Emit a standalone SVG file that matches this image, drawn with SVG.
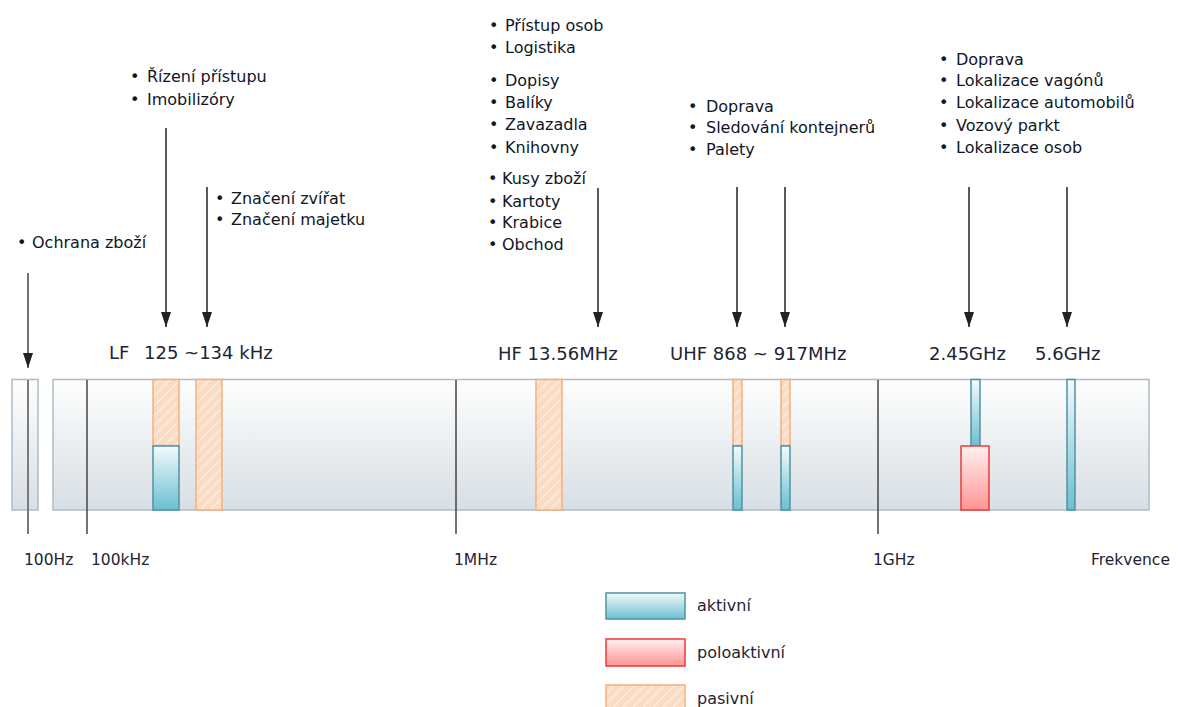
<svg xmlns="http://www.w3.org/2000/svg" width="1178" height="707" viewBox="0 0 1178 707">
<style>
.b{font-family:"DejaVu Sans",sans-serif;font-size:16px;fill:#0f1626}
.f{font-family:"DejaVu Sans",sans-serif;font-size:18px;fill:#1e2434}
.ax{font-family:"DejaVu Sans",sans-serif;font-size:15.5px;fill:#1e2434}
.lg{font-family:"DejaVu Sans",sans-serif;font-size:16px;fill:#1e2434}
.tick{stroke:#444;stroke-width:1.5}
.arr{stroke:#222;stroke-width:1.5;fill:none;marker-end:url(#ah)}
.act{fill:url(#ga);stroke:#4f93a3;stroke-width:1.5}
.semi{fill:url(#gr);stroke:#ee3a3a;stroke-width:1.5}
.pas{fill:url(#hatch);stroke:#f3b07e;stroke-width:1.5}
</style>
<defs>
<linearGradient id="gbar" x1="0" y1="0" x2="0" y2="1">
<stop offset="0" stop-color="#fefefe"/><stop offset="1" stop-color="#d8dfe4"/>
</linearGradient>
<linearGradient id="ga" x1="0" y1="0" x2="0" y2="1">
<stop offset="0" stop-color="#f3fafc"/><stop offset="1" stop-color="#6cbfd0"/>
</linearGradient>
<linearGradient id="gr" x1="0" y1="0" x2="0" y2="1">
<stop offset="0" stop-color="#fff0f0"/><stop offset="1" stop-color="#ff9494"/>
</linearGradient>
<pattern id="hatch" patternUnits="userSpaceOnUse" width="10" height="10">
<rect width="10" height="10" fill="#f9dcc5"/>
<path d="M-2,2 L2,-2 M0,10 L10,0 M8,12 L12,8" stroke="#fff" stroke-opacity="0.55" stroke-width="1.2"/>
</pattern>
<marker id="ah" markerUnits="userSpaceOnUse" markerWidth="15" markerHeight="10" viewBox="0 0 15 10" refX="15" refY="5" orient="auto">
<path d="M0,0 L15,5 L0,10 z" fill="#222"/>
</marker>
</defs>

<g id="band">
<rect x="12" y="379.5" width="26" height="130.5" fill="url(#gbar)" stroke="#aebcc7" stroke-width="1.5"/>
<rect x="53" y="379.5" width="1096" height="130.5" fill="url(#gbar)" stroke="#aebcc7" stroke-width="1.5"/>
</g>

<g id="ticks">
<line x1="28" y1="380" x2="28" y2="534" style="stroke:#7a7a7a;stroke-width:2"/>
<line class="tick" x1="87" y1="380" x2="87" y2="534"/>
<line class="tick" x1="456" y1="380" x2="456" y2="534"/>
<line class="tick" x1="878" y1="380" x2="878" y2="534"/>
</g>

<g id="lf-bands">
<rect class="pas" x="153" y="379.5" width="26" height="66"/>
<rect class="act" x="153" y="446" width="26" height="64"/>
<rect class="pas" x="196" y="379.5" width="26" height="130.5"/>
</g>
<g id="hf-band">
<rect class="pas" x="536" y="379.5" width="26" height="130.5"/>
</g>
<g id="uhf-bands">
<rect class="pas" x="733" y="379.5" width="9" height="66"/>
<rect class="act" x="733" y="446" width="9" height="64"/>
<rect class="pas" x="781" y="379.5" width="9" height="66"/>
<rect class="act" x="781" y="446" width="9" height="64"/>
</g>
<g id="ghz-bands">
<rect class="act" x="971" y="379.5" width="9" height="66.5"/>
<rect class="semi" x="961" y="446" width="28" height="64"/>
<rect class="act" x="1067" y="379.5" width="8" height="130.5"/>
</g>

<g id="axis-labels">
<text class="ax" x="24" y="565">100Hz</text>
<text class="ax" x="91" y="565">100kHz</text>
<text class="ax" x="454" y="565">1MHz</text>
<text class="ax" x="873" y="565">1GHz</text>
<text class="ax" x="1091" y="565">Frekvence</text>
</g>

<g id="freq-labels">
<text class="f" x="109" y="359">LF<tspan x="144">125 ~134 kHz</tspan></text>
<text class="f" x="498" y="360">HF 13.56MHz</text>
<text class="f" x="670" y="360">UHF 868 ~ 917MHz</text>
<text class="f" x="929" y="360">2.45GHz</text>
<text class="f" x="1035" y="360">5.6GHz</text>
</g>

<g id="ochrana">
<text class="b" x="17" y="248">•<tspan x="32">Ochrana zboží</tspan></text>
</g>
<g id="lf-apps1">
<text class="b" x="130" y="82">•<tspan x="147">Řízení přístupu</tspan></text>
<text class="b" x="130" y="105">•<tspan x="147">Imobilizóry</tspan></text>
</g>
<g id="lf-apps2">
<text class="b" x="215" y="204">•<tspan x="231">Značení zvířat</tspan></text>
<text class="b" x="215" y="225">•<tspan x="231">Značení majetku</tspan></text>
</g>
<g id="hf-apps">
<text class="b" x="489" y="31">•<tspan x="505">Přístup osob</tspan></text>
<text class="b" x="489" y="53">•<tspan x="505">Logistika</tspan></text>
<text class="b" x="489" y="86">•<tspan x="505">Dopisy</tspan></text>
<text class="b" x="489" y="108">•<tspan x="505">Balíky</tspan></text>
<text class="b" x="489" y="130">•<tspan x="505">Zavazadla</tspan></text>
<text class="b" x="489" y="153">•<tspan x="505">Knihovny</tspan></text>
<text class="b" x="488" y="184">•<tspan x="502">Kusy zboží</tspan></text>
<text class="b" x="488" y="207">•<tspan x="502">Kartoty</tspan></text>
<text class="b" x="488" y="228">•<tspan x="502">Krabice</tspan></text>
<text class="b" x="488" y="250">•<tspan x="502">Obchod</tspan></text>
</g>
<g id="uhf-apps">
<text class="b" x="688" y="112">•<tspan x="706">Doprava</tspan></text>
<text class="b" x="688" y="133">•<tspan x="706">Sledování kontejnerů</tspan></text>
<text class="b" x="688" y="155">•<tspan x="706">Palety</tspan></text>
</g>
<g id="ghz-apps">
<text class="b" x="939" y="65">•<tspan x="956">Doprava</tspan></text>
<text class="b" x="939" y="86">•<tspan x="956">Lokalizace vagónů</tspan></text>
<text class="b" x="939" y="108">•<tspan x="956">Lokalizace automobilů</tspan></text>
<text class="b" x="939" y="131">•<tspan x="956">Vozový parkt</tspan></text>
<text class="b" x="939" y="153">•<tspan x="956">Lokalizace osob</tspan></text>
</g>

<g id="connectors">
<line class="arr" x1="28" y1="273" x2="28" y2="368" style="stroke:#444"/>
<line class="arr" x1="166" y1="128" x2="166" y2="327"/>
<line class="arr" x1="207" y1="187" x2="207" y2="327"/>
<line class="arr" x1="598" y1="188" x2="598" y2="327"/>
<line class="arr" x1="737" y1="187" x2="737" y2="327"/>
<line class="arr" x1="785" y1="187" x2="785" y2="327"/>
<line class="arr" x1="969" y1="187" x2="969" y2="327"/>
<line class="arr" x1="1067" y1="187" x2="1067" y2="327"/>
</g>

<g id="legend">
<rect class="act" x="606" y="593" width="79" height="26"/>
<text class="lg" x="697" y="611">aktivní</text>
<rect class="semi" x="606" y="639" width="79" height="27"/>
<text class="lg" x="697" y="658">poloaktivní</text>
<rect class="pas" x="606" y="685" width="79" height="30"/>
<text class="lg" x="697" y="704">pasivní</text>
</g>
</svg>
